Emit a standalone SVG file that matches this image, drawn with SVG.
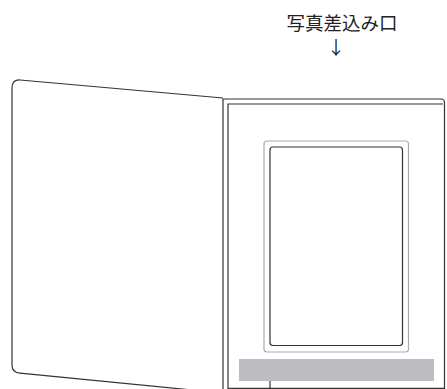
<svg xmlns="http://www.w3.org/2000/svg" width="447" height="389" viewBox="0 0 447 389">
<style>
.ln{fill:none;stroke:#333;stroke-width:1.2}
.lg{fill:none;stroke:#aaa;stroke-width:1.2}
.lbl{font-family:"Noto Sans CJK JP","Noto Sans",sans-serif;font-size:18.5px;fill:#222}
</style>
<rect width="447" height="389" fill="#fff"/>
<g id="cover">
<path class="ln" d="M223,98 L20,80 Q12,79.5 12,88 L12,365 Q12,372.5 20,373.2 L190,389.8"/>
</g>
<g id="panel">
<path class="ln" d="M223,390 L223,99 L441,99 Q444.5,99 444.5,103 L444.5,390"/>
<path class="ln" d="M228,390 L228,104 L443,104"/>
<path class="ln" d="M228,388.3 L444,388.3"/>
</g>
<g id="photo">
<rect class="lg" x="264" y="141" width="144.5" height="211" rx="3"/>
<rect class="ln" x="270" y="147" width="132.5" height="198.5" rx="3"/>
</g>
<g id="bar">
<rect x="239" y="359" width="195" height="22" fill="#bcbdc0"/>
</g>
<g id="connectors">
<line class="ln" x1="270" y1="381" x2="270" y2="389" stroke-width="2"/>
</g>
<g id="label">
<text class="lbl" x="342" y="30" text-anchor="middle">写真差込み口</text>
<text class="lbl" x="336" y="54" text-anchor="middle">↓</text>
</g>
</svg>
